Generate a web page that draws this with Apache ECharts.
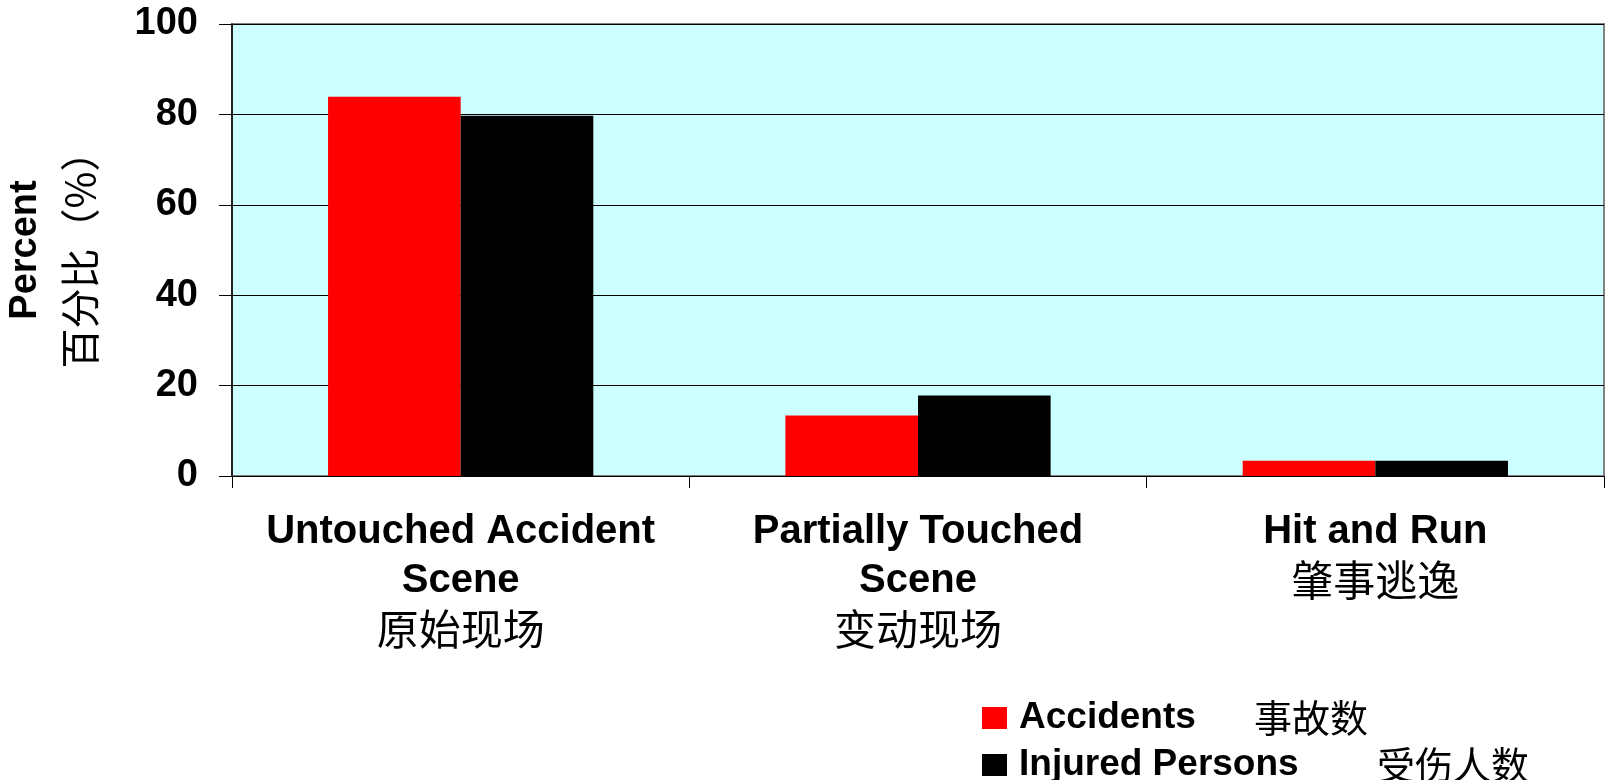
<!DOCTYPE html>
<html>
<head>
<meta charset="utf-8">
<script src="https://cdn.jsdelivr.net/npm/echarts@6/dist/echarts.min.js"></script>
<style>
html,body{margin:0;padding:0;background:#fff;}
#chart{width:1608px;height:780px;}
</style>
</head>
<body>
<div id="chart"></div>
<script>
// ---- data ----
const categoryEnLines = [['Untouched Accident', 'Scene'], ['Partially Touched', 'Scene'], ['Hit and Run']];
const categoryZh = ['原始现场', '变动现场', '肇事逃逸'];
const categoryKeys = ['Untouched Accident Scene', 'Partially Touched Scene', 'Hit and Run'];
const seriesNames = ['Accidents', 'Injured Persons'];
const seriesNamesZh = ['事故数', '受伤人数'];
const accidents = [83.9, 13.4, 3.4];
const injuredPersons = [79.7, 17.8, 3.4];
const yMin = 0, yMax = 100, yInterval = 20;
const yNameEn = 'Percent';
const yNameZh = '百分比（%）';

const EN = '"Liberation Sans", Arial, sans-serif';
const ZH = '"Noto Sans CJK SC", sans-serif';

// layout for the two legend rows
const legendTops = [694, 741];
const legendEnWidths = [235, 358];

function makeLegend(i) {
  return {
    orient: 'vertical',
    left: 977, top: legendTops[i],
    icon: 'rect',
    itemWidth: 25, itemHeight: 22,
    data: [seriesNames[i]],
    formatter: function (name) {
      const k = seriesNames.indexOf(name);
      return '{en|' + name + '}{zh|' + seriesNamesZh[k] + '}';
    },
    textStyle: {
      rich: {
        en: {fontFamily: EN, fontWeight: 'bold', fontSize: 37, color: '#000', lineHeight: 40, width: legendEnWidths[i], padding: [0, 0, 0, 7]},
        zh: {fontFamily: ZH, fontWeight: 'normal', fontSize: 38, color: '#000', lineHeight: 40}
      }
    }
  };
}

const chart = echarts.init(document.getElementById('chart'), null, {renderer: 'canvas'});
chart.setOption({
  animation: false,
  backgroundColor: '#ffffff',
  grid: {
    left: 232, right: 4, top: 24, bottom: 304,
    containLabel: false, outerBoundsMode: 'none',
    show: true, backgroundColor: '#CCFFFF', borderColor: '#808080', borderWidth: 2
  },
  legend: [makeLegend(0), makeLegend(1)],
  xAxis: {
    type: 'category',
    data: categoryKeys,
    boundaryGap: true,
    axisLine: {show: true, lineStyle: {color: '#000', width: 1}},
    axisTick: {show: true, inside: false, length: 12, lineStyle: {color: '#000', width: 1}},
    axisLabel: {
      interval: 0,
      margin: 31,
      verticalAlign: 'top',
      formatter: function (value) {
        const i = categoryKeys.indexOf(value);
        return categoryEnLines[i].map(l => '{en|' + l + '}').join('\n') + '\n{zh|' + categoryZh[i] + '}';
      },
      rich: {
        en: {fontFamily: EN, fontWeight: 'bold', fontSize: 40, color: '#000', lineHeight: 49, align: 'center'},
        zh: {fontFamily: ZH, fontWeight: 'normal', fontSize: 42, color: '#000', lineHeight: 49, align: 'center'}
      }
    },
    splitLine: {show: false}
  },
  yAxis: {
    type: 'value',
    min: yMin, max: yMax, interval: yInterval,
    name: '{a|' + yNameEn + '}\n{b|' + yNameZh + '}',
    nameLocation: 'middle',
    nameRotate: 90,
    nameGap: 125,
    nameTextStyle: {
      rich: {
        a: {fontFamily: EN, fontWeight: 'bold', fontSize: 38, color: '#000', lineHeight: 54, align: 'center'},
        b: {fontFamily: ZH, fontWeight: 'normal', fontSize: 40, color: '#000', lineHeight: 54, align: 'center'}
      }
    },
    axisLine: {show: true, lineStyle: {color: '#000', width: 1.5}},
    axisTick: {show: true, inside: false, length: 13, lineStyle: {color: '#000', width: 1}},
    axisLabel: {fontFamily: EN, fontWeight: 'bold', fontSize: 38, color: '#000', margin: 34},
    splitLine: {show: true, lineStyle: {color: '#000', width: 1}}
  },
  series: [
    {
      name: seriesNames[0], type: 'bar', data: accidents,
      barGap: '0%', barCategoryGap: '42%',
      itemStyle: {color: '#FF0000'}
    },
    {
      name: seriesNames[1], type: 'bar', data: injuredPersons,
      barGap: '0%', barCategoryGap: '42%',
      itemStyle: {color: '#000000'}
    }
  ]
});
</script>
</body>
</html>
